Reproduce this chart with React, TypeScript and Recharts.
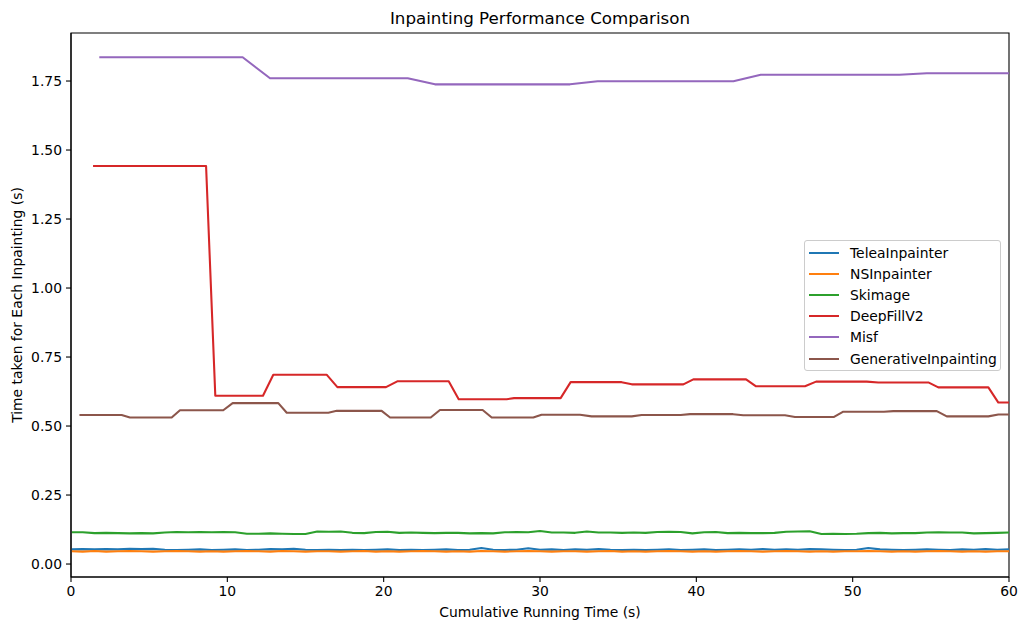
import React from 'react';
import { LineChart, Line, XAxis, YAxis, Legend, ReferenceArea } from 'recharts';

// ---- data ----
const seriesNames = ['TeleaInpainter', 'NSInpainter', 'Skimage', 'DeepFillV2', 'Misf', 'GenerativeInpainting'];
const seriesColors = ['#1f77b4', '#ff7f0e', '#2ca02c', '#d62728', '#9467bd', '#8c564b'];

const xTicks = [0, 10, 20, 30, 40, 50, 60];
const yTicks = [0, 0.25, 0.5, 0.75, 1.0, 1.25, 1.5, 1.75];
const xDomain = [0, 60];
const yDomain = [-0.047, 1.924];

// sample times (s) for the fast, noisy methods
const sampleTimes = [
  0.05, 0.75, 1.5, 2.25, 3, 3.75, 4.5, 5.25, 6, 6.75,
  7.5, 8.25, 9, 9.75, 10.5, 11.25, 12, 12.75, 13.5, 14.25,
  15, 15.75, 16.5, 17.25, 18, 18.75, 19.5, 20.25, 21, 21.75,
  22.5, 23.25, 24, 24.75, 25.5, 26.25, 27, 27.75, 28.5, 29.25,
  30, 30.75, 31.5, 32.25, 33, 33.75, 34.5, 35.25, 36, 36.75,
  37.5, 38.25, 39, 39.75, 40.5, 41.25, 42, 42.75, 43.5, 44.25,
  45, 45.75, 46.5, 47.25, 48, 48.75, 49.5, 50.25, 51, 51.75,
  52.5, 53.25, 54, 54.75, 55.5, 56.25, 57, 57.75, 58.5, 59.25,
  60,
];

const teleaValues = [
  0.053, 0.054, 0.053, 0.054, 0.053, 0.055, 0.054, 0.055, 0.052, 0.051,
  0.052, 0.053, 0.051, 0.052, 0.053, 0.051, 0.052, 0.054, 0.053, 0.055,
  0.052, 0.051, 0.052, 0.051, 0.052, 0.051, 0.052, 0.053, 0.051, 0.052,
  0.051, 0.052, 0.053, 0.051, 0.052, 0.058, 0.052, 0.051, 0.052, 0.057,
  0.052, 0.053, 0.051, 0.053, 0.052, 0.054, 0.052, 0.051, 0.052, 0.051,
  0.052, 0.053, 0.051, 0.052, 0.053, 0.051, 0.052, 0.053, 0.052, 0.054,
  0.052, 0.053, 0.052, 0.054, 0.053, 0.052, 0.051, 0.052, 0.058, 0.053,
  0.052, 0.051, 0.052, 0.053, 0.052, 0.051, 0.053, 0.052, 0.054, 0.052,
  0.053,
];

const nsValues = [
  0.046, 0.045, 0.047, 0.045, 0.046, 0.047, 0.046, 0.045, 0.046, 0.047,
  0.046, 0.045, 0.046, 0.045, 0.046, 0.047, 0.046, 0.045, 0.047, 0.046,
  0.045, 0.046, 0.046, 0.045, 0.046, 0.047, 0.045, 0.046, 0.045, 0.046,
  0.047, 0.046, 0.045, 0.046, 0.045, 0.047, 0.046, 0.045, 0.046, 0.047,
  0.046, 0.045, 0.046, 0.046, 0.045, 0.046, 0.047, 0.045, 0.046, 0.045,
  0.046, 0.047, 0.046, 0.045, 0.046, 0.045, 0.046, 0.047, 0.046, 0.045,
  0.046, 0.047, 0.046, 0.045, 0.046, 0.045, 0.046, 0.046, 0.047, 0.046,
  0.045, 0.046, 0.045, 0.046, 0.047, 0.046, 0.045, 0.046, 0.045, 0.046,
  0.046,
];

const skimageValues = [
  0.115, 0.115, 0.112, 0.113, 0.112, 0.111, 0.112, 0.111, 0.114, 0.116,
  0.115, 0.116, 0.115, 0.116, 0.115, 0.110, 0.110, 0.111, 0.110, 0.109,
  0.109, 0.118, 0.117, 0.118, 0.113, 0.112, 0.116, 0.117, 0.113, 0.114,
  0.113, 0.112, 0.113, 0.113, 0.111, 0.112, 0.111, 0.115, 0.116, 0.115,
  0.120, 0.114, 0.114, 0.113, 0.118, 0.114, 0.114, 0.113, 0.114, 0.113,
  0.116, 0.117, 0.116, 0.111, 0.115, 0.116, 0.112, 0.113, 0.112, 0.112,
  0.113, 0.117, 0.118, 0.119, 0.109, 0.110, 0.109, 0.110, 0.112, 0.113,
  0.111, 0.112, 0.112, 0.114, 0.115, 0.114, 0.114, 0.111, 0.112, 0.113,
  0.114,
];

// slow methods: corner points (cumulative time, seconds per inpainting)
const deepFillTimes = [
  1.41, 8.64, 9.23, 12.28, 12.94, 16.35, 17.04, 20.15, 20.87, 24.16,
  24.8, 27.87, 28.34, 31.32, 31.96, 35.22, 35.87, 39.17, 39.81, 43.18,
  43.82, 46.95, 47.66, 50.9, 51.64, 54.84, 55.48, 58.68, 59.32, 60.6,
];
const deepFillValues = [
  1.442, 1.442, 0.61, 0.61, 0.686, 0.686, 0.641, 0.641, 0.662, 0.662,
  0.597, 0.597, 0.601, 0.601, 0.659, 0.659, 0.651, 0.651, 0.669, 0.669,
  0.644, 0.644, 0.661, 0.661, 0.658, 0.658, 0.64, 0.64, 0.585, 0.585,
];

const misfTimes = [1.81, 10.98, 12.73, 21.54, 23.28, 31.92, 33.69, 42.37, 44.12, 52.99, 54.74, 61.8];
const misfValues = [1.836, 1.836, 1.76, 1.76, 1.738, 1.738, 1.749, 1.749, 1.773, 1.773, 1.778, 1.778];

const genTimes = [
  0.54, 3.24, 3.77, 6.44, 6.97, 9.74, 10.34, 13.26, 13.8, 16.46,
  17.0, 19.87, 20.41, 23.01, 23.6, 26.33, 26.91, 29.57, 30.1, 32.56,
  33.3, 35.87, 36.5, 39.0, 39.6, 42.35, 43.0, 45.67, 46.31, 48.81,
  49.4, 52.0, 52.6, 55.38, 56.02, 58.68, 59.32, 60.6,
];
const genValues = [
  0.54, 0.54, 0.531, 0.531, 0.557, 0.557, 0.583, 0.583, 0.548, 0.548,
  0.555, 0.555, 0.531, 0.531, 0.558, 0.558, 0.531, 0.531, 0.541, 0.541,
  0.535, 0.535, 0.54, 0.54, 0.543, 0.543, 0.539, 0.539, 0.533, 0.533,
  0.552, 0.552, 0.554, 0.554, 0.535, 0.535, 0.542, 0.542,
];

const zip = (xs: number[], ys: number[]) => {
  const n = Math.min(xs.length, ys.length);
  const out: { x: number; y: number }[] = [];
  for (let i = 0; i < n; i++) out.push({ x: xs[i], y: ys[i] });
  return out;
};

const seriesData = [
  zip(sampleTimes, teleaValues),
  zip(sampleTimes, nsValues),
  zip(sampleTimes, skimageValues),
  zip(deepFillTimes, deepFillValues),
  zip(misfTimes, misfValues),
  zip(genTimes, genValues),
];

const FONT = 'DejaVu Sans, Verdana, sans-serif';
const tickStyle = { fill: '#000', fontSize: 13.9, fontFamily: FONT };

const LegendBox = () => (
  <div
    style={{
      width: 197,
      boxSizing: 'border-box',
      border: '1px solid #cccccc',
      borderRadius: 3,
      background: 'rgba(255,255,255,0.8)',
      paddingTop: 1,
      paddingBottom: 1,
      fontFamily: FONT,
      fontSize: 13.9,
      color: '#000',
    }}
  >
    {seriesNames.map((name, i) => (
      <div key={name} style={{ height: 21.2, display: 'flex', alignItems: 'center' }}>
        <div style={{ marginLeft: 4, width: 30, height: 2, background: seriesColors[i] }} />
        <span style={{ marginLeft: 11, whiteSpace: 'nowrap', lineHeight: '16px' }}>{name}</span>
      </div>
    ))}
  </div>
);

export default function App() {
  return (
    <div style={{ position: 'absolute', left: 0, top: 0, width: 1020, height: 626, background: '#fff' }}>
      <div
        style={{
          position: 'absolute', left: 71, width: 938, top: 8, textAlign: 'center',
          fontFamily: FONT, fontSize: 16.7, lineHeight: '20px', color: '#000',
        }}
      >
        Inpainting Performance Comparison
      </div>
      <LineChart width={1020} height={626} margin={{ top: 33, right: 11, left: 0, bottom: 0 }}>
        <XAxis
          dataKey="x"
          type="number"
          domain={xDomain}
          allowDataOverflow
          ticks={xTicks}
          height={49}
          tick={tickStyle}
          tickSize={5}
          tickMargin={4}
          axisLine={{ stroke: '#000', strokeWidth: 1.1 }}
          tickLine={{ stroke: '#000', strokeWidth: 1.1 }}
        />
        <YAxis
          type="number"
          domain={yDomain}
          allowDataOverflow
          ticks={yTicks}
          width={71}
          tick={tickStyle}
          tickSize={5}
          tickMargin={4}
          tickFormatter={(v: number) => v.toFixed(2)}
          axisLine={{ stroke: '#000', strokeWidth: 1.1 }}
          tickLine={{ stroke: '#000', strokeWidth: 1.1 }}
        />
        {seriesNames.map((name, i) => (
          <Line
            key={name}
            name={name}
            data={seriesData[i]}
            dataKey="y"
            type="linear"
            stroke={seriesColors[i]}
            strokeWidth={2.08}
            dot={false}
            activeDot={false}
            isAnimationActive={false}
            strokeLinejoin="round"
          />
        ))}
        <ReferenceArea
          x1={xDomain[0]}
          x2={xDomain[1]}
          y1={yDomain[0]}
          y2={yDomain[1]}
          fill="none"
          fillOpacity={0}
          stroke="#000"
          strokeWidth={1.1}
          ifOverflow="visible"
        />
        <Legend
          layout="horizontal"
          verticalAlign="middle"
          align="center"
          wrapperStyle={{ left: 804, top: 240, width: 197 }}
          content={() => <LegendBox />}
        />
      </LineChart>
      <div
        style={{
          position: 'absolute', left: 71, width: 938, top: 604, textAlign: 'center',
          fontFamily: FONT, fontSize: 13.9, lineHeight: '16px', color: '#000',
        }}
      >
        Cumulative Running Time (s)
      </div>
      <div
        style={{
          position: 'absolute', left: 17, top: 305, transform: 'translate(-50%, -50%) rotate(-90deg)',
          fontFamily: FONT, fontSize: 13.9, lineHeight: '16px', color: '#000', whiteSpace: 'nowrap',
        }}
      >
        Time taken for Each Inpainting (s)
      </div>
    </div>
  );
}
